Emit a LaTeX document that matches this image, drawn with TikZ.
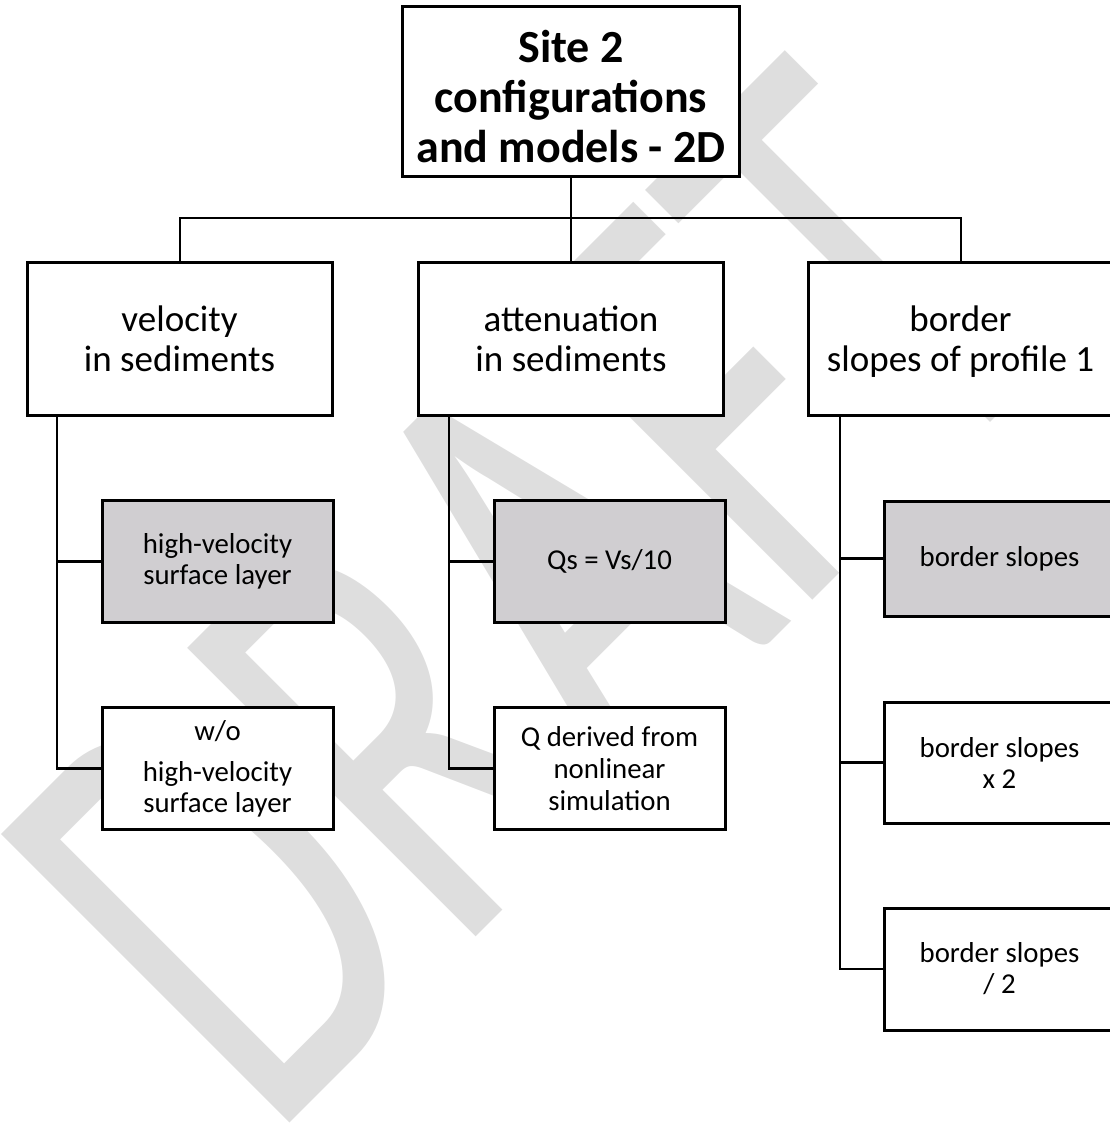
\documentclass[tikz,border=0pt]{standalone}
\usepackage{fontspec}
\setmainfont{Carlito}
\definecolor{leafgrey}{RGB}{208,206,209}
\definecolor{draftgrey}{RGB}{222,222,222}
\begin{document}
\begin{tikzpicture}[x=0.5pt, y=-0.5pt,
                    Root/.style={draw, line width=1.5pt, fill=white, inner sep=0, align=center,
                                 minimum width=337*\Px, minimum height=170*\Px,
                                 font=\fontsize{23}{25}\selectfont\bfseries},
                    Branch/.style={draw, line width=1.5pt, fill=white, inner sep=0, align=center,
                                   minimum width=305*\Px, minimum height=152*\Px, text depth=0pt,
                                   font=\fontsize{18.5}{20}\selectfont},
                    Leaf/.style={draw, line width=1.5pt, fill=white, inner sep=0, align=center,
                                 minimum width=231*\Px, minimum height=122*\Px,
                                 font=\fontsize{14.4}{15.5}\selectfont},
                    Leaf_grey/.style={Leaf, fill=leafgrey},
                    link/.style={line width=1.4pt},
                    bus/.style={line width=1pt}
                    ]
    \newdimen\Px
    \Px=0.5pt
    \useasboundingbox (0,0) rectangle (1109,1138);

    % watermark
    \begin{scope}[shift={(269,1144)}, rotate=45, xscale=0.67]
        \node[transform shape, anchor=base west, inner sep=0, text=draftgrey,
              font=\fontsize{318}{318}\selectfont] (draft) at (0,0) {DRAFT};
    \end{scope}

    % tree
    \node[Root] (root) at (571,92) {\rule{0pt}{21pt}Site 2\\configurations\\and models - 2D};

    \node[Branch] (vel)  at (179.5,339) {velocity\\in sediments};
    \node[Branch] (att)  at (571,339)   {attenuation\\in sediments};
    \node[Branch] (bord) at (960.5,339) {border\\slopes of profile 1};

    \node[Leaf_grey] (vel_a) at (217.5,561.5) {high-velocity\\surface layer};
    \node[Leaf]      (vel_b) at (217.5,768.5) {w/o\\[5pt]high-velocity\\surface layer};

    \node[Leaf_grey] (att_a) at (609.5,561.5) {Qs = Vs/10};
    \node[Leaf, font=\fontsize{14.4}{16}\selectfont] (att_b) at (609.5,768.5) {Q derived from\\nonlinear\\simulation};

    \node[Leaf_grey, minimum height=115*\Px] (bord_a) at (999.5,558.5) {border slopes};
    \node[Leaf, minimum height=121*\Px]      (bord_b) at (999.5,762.5) {border slopes\\x 2};
    \node[Leaf]                              (bord_c) at (999.5,969)   {border slopes\\/ 2};

    \coordinate (vel_trunk)  at (57,415);
    \coordinate (att_trunk)  at (449,415);
    \coordinate (bord_trunk) at (840,415);

    \draw[link] (root) -- (att);
    \draw[bus] (vel.north) -- ++(0,-43) -| (bord.north);

    \draw[link] (vel_trunk) |- (vel_a.west);
    \draw[link] (vel_trunk) |- (vel_b.west);
    \draw[link] (att_trunk) |- (att_a.west);
    \draw[link] (att_trunk) |- (att_b.west);
    \draw[link] (bord_trunk) |- (bord_a.west);
    \draw[link] (bord_trunk) |- (bord_b.west);
    \draw[link] (bord_trunk) |- (bord_c.west);
\end{tikzpicture}
\end{document}
